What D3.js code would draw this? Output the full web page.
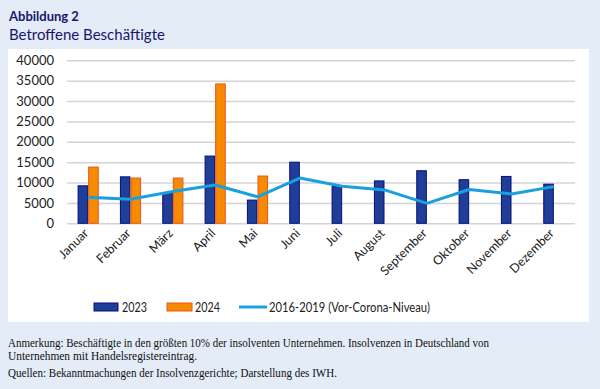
<!DOCTYPE html>
<html>
<head>
<meta charset="utf-8">
<script src="https://cdn.jsdelivr.net/npm/d3@7"></script>
<style>
  body { margin: 0; background: #e3ecf7; }
  svg { display: block; }
</style>
</head>
<body>
<div id="chart"></div>
<script>
// data
var months = ["Januar", "Februar", "März", "April", "Mai", "Juni", "Juli", "August", "September", "Oktober", "November", "Dezember"];
var v2023 = [9200, 11400, 7400, 16500, 5700, 15000, 9000, 10400, 12900, 10700, 11500, 9600];
var v2024 = [13800, 11100, 11100, 34200, 11600, null, null, null, null, null, null, null];
var vorCorona = [6400, 5900, 7800, 9400, 6500, 11100, 9100, 8200, 4900, 8300, 7200, 9000];
var yTicks = [0, 5000, 10000, 15000, 20000, 25000, 30000, 35000, 40000];
var seriesNames = ["2023", "2024", "2016-2019 (Vor-Corona-Niveau)"];

var W = 600, H = 389;
var sansFont = "Lato, 'Noto Sans', sans-serif";

var svg = d3.select("#chart").append("svg")
  .attr("width", W)
  .attr("height", H);

svg.append("rect").attr("width", W).attr("height", H).attr("fill", "#e3ecf7");

// white panel
svg.append("rect")
  .attr("x", 8).attr("y", 49)
  .attr("width", 581).attr("height", 273)
  .attr("fill", "#ffffff");

// titles
svg.append("text")
  .attr("x", 9).attr("y", 21)
  .attr("font-family", sansFont)
  .attr("font-weight", "bold")
  .attr("font-size", 13)
  .attr("fill", "#17176b")
  .text("Abbildung 2");
svg.append("text")
  .attr("x", 9).attr("y", 40)
  .attr("font-family", sansFont)
  .attr("font-size", 15)
  .attr("fill", "#17176b")
  .text("Betroffene Beschäftigte");

// scales
var x = d3.scaleBand()
  .domain(months)
  .range([67, 575])
  .paddingInner(0.5)
  .paddingOuter(0.25);

var xSub = d3.scaleBand()
  .domain(["2023", "2024"])
  .range([0, x.bandwidth()]);

var y = d3.scaleLinear()
  .domain([0, 40000])
  .range([223.3, 60.3]);

// grid
var grid = svg.append("g")
  .attr("transform", "translate(67,0)")
  .call(d3.axisLeft(y).tickValues(yTicks).tickSize(-508).tickFormat(""));
grid.select(".domain").remove();
grid.selectAll("line").attr("stroke", "#d4d4d4").attr("stroke-width", 1.5);

// y axis labels
var yAxis = svg.append("g")
  .attr("transform", "translate(54,0)")
  .call(d3.axisLeft(y).tickValues(yTicks).tickSize(0).tickPadding(0).tickFormat(d3.format("d")));
yAxis.select(".domain").remove();
yAxis.selectAll("text")
  .attr("font-family", sansFont)
  .attr("font-size", 13)
  .attr("fill", "#222");

// bars
var rows = months.map(function(m, i) { return { m: m, a: v2023[i], b: v2024[i] }; });

svg.append("g").selectAll("rect")
  .data(rows)
  .enter().append("rect")
  .attr("x", function(d) { return x(d.m) + xSub("2023") + 0.5; })
  .attr("y", function(d) { return y(d.a); })
  .attr("width", xSub.bandwidth() - 1)
  .attr("height", function(d) { return y(0) - y(d.a); })
  .attr("fill", "#1f3f96")
  .attr("stroke", "#0a0a80")
  .attr("stroke-width", 1);

svg.append("g").selectAll("rect")
  .data(rows.filter(function(d) { return d.b != null; }))
  .enter().append("rect")
  .attr("x", function(d) { return x(d.m) + xSub("2024") + 0.5; })
  .attr("y", function(d) { return y(d.b); })
  .attr("width", xSub.bandwidth() - 1)
  .attr("height", function(d) { return y(0) - y(d.b); })
  .attr("fill", "#f68a00")
  .attr("stroke", "#e8561a")
  .attr("stroke-width", 1);

// line
svg.append("path")
  .datum(vorCorona)
  .attr("fill", "none")
  .attr("stroke", "#1aa0de")
  .attr("stroke-width", 3)
  .attr("stroke-linejoin", "round")
  .attr("d", d3.line()
    .x(function(d, i) { return x(months[i]) + x.bandwidth() / 2; })
    .y(function(d) { return y(d); }));

// x labels
svg.append("g").selectAll("text")
  .data(months)
  .enter().append("text")
  .attr("transform", function(d) {
    return "translate(" + (x(d) + x.bandwidth() / 2 + 1) + ",234) rotate(-45)";
  })
  .attr("text-anchor", "end")
  .attr("font-family", sansFont)
  .attr("font-size", 12.5)
  .attr("fill", "#222")
  .text(function(d) { return d; });

// legend
var legend = svg.append("g");
legend.append("rect").attr("x", 94).attr("y", 303).attr("width", 24).attr("height", 8)
  .attr("fill", "#1f3f96").attr("stroke", "#0a0a80");
legend.append("text").attr("x", 122).attr("y", 312).attr("textLength", 25).text(seriesNames[0]);
legend.append("rect").attr("x", 167).attr("y", 303).attr("width", 25).attr("height", 8)
  .attr("fill", "#f68a00").attr("stroke", "#e8561a");
legend.append("text").attr("x", 195).attr("y", 312).attr("textLength", 25).text(seriesNames[1]);
legend.append("line").attr("x1", 239).attr("x2", 267).attr("y1", 307).attr("y2", 307)
  .attr("stroke", "#1aa0de").attr("stroke-width", 3);
legend.append("text").attr("x", 269).attr("y", 312).attr("textLength", 161).text(seriesNames[2]);
legend.selectAll("text")
  .attr("lengthAdjust", "spacingAndGlyphs")
  .attr("font-family", sansFont)
  .attr("font-size", 13.5)
  .attr("fill", "#222");

// notes (condensed serif in the original)
var notes = svg.append("g")
  .attr("font-family", "'Liberation Serif', 'DejaVu Serif', serif")
  .attr("font-size", 12.5)
  .attr("fill", "#111");
notes.append("text").attr("x", 8).attr("y", 347)
  .attr("textLength", 481).attr("lengthAdjust", "spacingAndGlyphs")
  .text("Anmerkung: Beschäftigte in den größten 10% der insolventen Unternehmen. Insolvenzen in Deutschland von");
notes.append("text").attr("x", 8).attr("y", 360)
  .attr("textLength", 189).attr("lengthAdjust", "spacingAndGlyphs")
  .text("Unternehmen mit Handelsregistereintrag.");
notes.append("text").attr("x", 8).attr("y", 377)
  .attr("textLength", 329).attr("lengthAdjust", "spacingAndGlyphs")
  .text("Quellen: Bekanntmachungen der Insolvenzgerichte; Darstellung des IWH.");
</script>
</body>
</html>
